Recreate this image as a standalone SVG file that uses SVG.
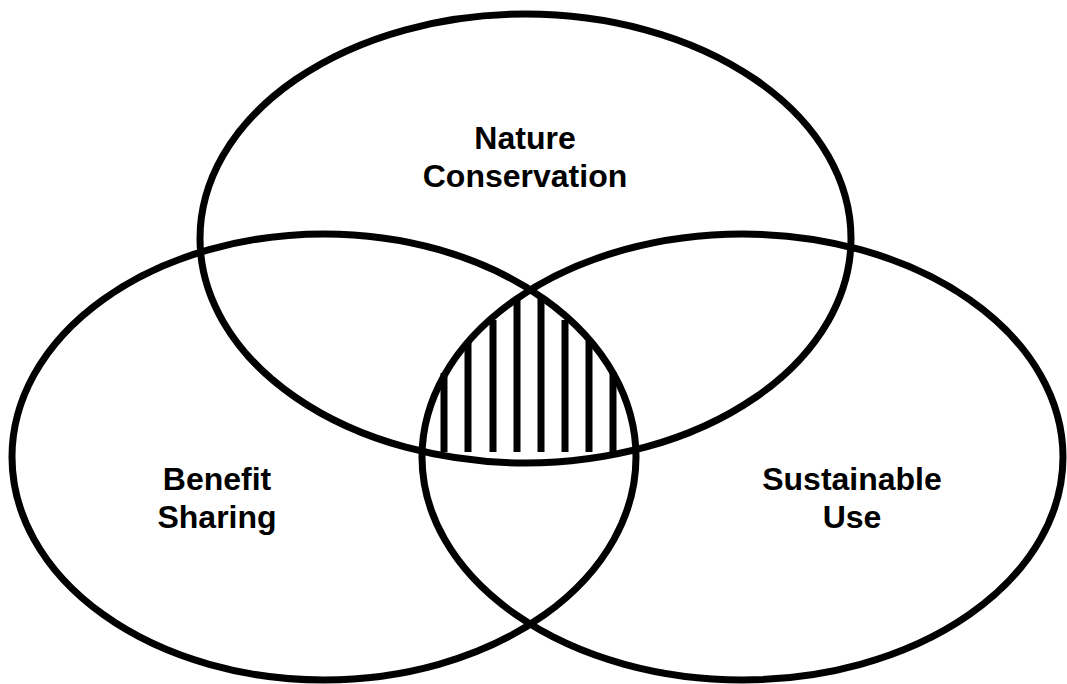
<svg xmlns="http://www.w3.org/2000/svg" width="1067" height="684" viewBox="0 0 1067 684">
  <style>
    .set { fill: none; stroke: #000; stroke-width: 7; }
    .hatch line { stroke: #000; stroke-width: 7; }
    .label { font-family: "Liberation Sans", Arial, sans-serif; font-weight: bold; font-size: 32px; fill: #000; text-anchor: middle; }
  </style>
  <rect width="1067" height="684" fill="#fff"/>

  <!-- shared core of all three sets -->
  <g id="overlap" class="hatch">
    <line x1="444" y1="373" x2="444" y2="452"/>
    <line x1="468" y1="341" x2="468" y2="452"/>
    <line x1="493" y1="320" x2="493" y2="452"/>
    <line x1="517" y1="299" x2="517" y2="452"/>
    <line x1="541" y1="298" x2="541" y2="452"/>
    <line x1="565" y1="320" x2="565" y2="452"/>
    <line x1="589" y1="341" x2="589" y2="452"/>
    <line x1="613" y1="372" x2="613" y2="452"/>
  </g>

  <g id="nature-conservation">
    <ellipse class="set" cx="525.5" cy="238.5" rx="325.5" ry="224.5"/>
    <text class="label" x="525" y="149">Nature</text>
    <text class="label" x="525" y="187">Conservation</text>
  </g>

  <g id="benefit-sharing">
    <ellipse class="set" cx="324" cy="457" rx="312" ry="223"/>
    <text class="label" x="217" y="490">Benefit</text>
    <text class="label" x="217" y="528">Sharing</text>
  </g>

  <g id="sustainable-use">
    <ellipse class="set" cx="742.5" cy="457" rx="320.5" ry="223"/>
    <text class="label" x="852" y="490">Sustainable</text>
    <text class="label" x="852" y="528">Use</text>
  </g>

  <g id="connectors"/>
</svg>
